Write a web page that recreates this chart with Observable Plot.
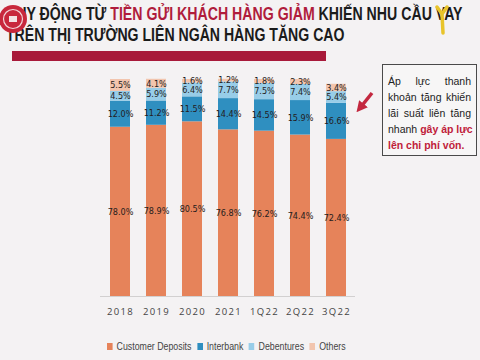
<!DOCTYPE html>
<html>
<head>
<meta charset="utf-8">
<script src="https://cdn.jsdelivr.net/npm/d3@7"></script>
<script src="https://cdn.jsdelivr.net/npm/@observablehq/plot@0.6"></script>
<style>
  html, body { margin: 0; padding: 0; }
  body { width: 480px; height: 360px; background: #f4f2f3; position: relative; overflow: hidden;
         font-family: "Liberation Sans", Arial, sans-serif; }
  #title { position: absolute; left: 0; top: 0; }
  #chart { position: absolute; left: 0; top: 62px; }
  #note { position: absolute; left: 382px; top: 64px; width: 83px; height: 81px; border: 1px solid #4a4a4a;
          padding: 8px 5px 1px 5px; font-size: 10.5px; line-height: 16px; color: #222; background: #f7f6f6; }
  #note div { text-align: justify; text-align-last: justify; white-space: nowrap; }
  #note div.last { text-align-last: left; }
  #note b { color: #c0203a; }
  #arrow { position: absolute; left: 0; top: 0; pointer-events: none; }
  #legend { position: absolute; left: 107px; top: 340px; display: flex; gap: 7px; align-items: center;
            font-family: "Liberation Sans", Arial, sans-serif; font-size: 11px; color: #444;
            transform: scaleX(0.8); transform-origin: 0 0; white-space: nowrap; }
  #legend .item { display: flex; align-items: center; gap: 5px; }
  #legend .sw { width: 7px; height: 7px; display: inline-block; }
</style>
</head>
<body>
<svg id="title" width="480" height="64" font-family="Liberation Sans, sans-serif" font-weight="bold" font-size="17.5">
  <text id="t1" x="0" y="20" fill="#1b1b1b">HUY ĐỘNG TỪ <tspan fill="#b01c3c">TIỀN GỬI KHÁCH HÀNG GIẢM</tspan> KHIẾN NHU CẦU VAY</text>
  <text id="t2" x="0" y="41.5" fill="#1b1b1b">TRÊN THỊ TRƯỜNG LIÊN NGÂN HÀNG TĂNG CAO</text>
  <rect x="12" y="51" width="314" height="10" fill="#a81a3a"/>
  <circle cx="13" cy="19" r="14" fill="#c8283c"/>
  <circle cx="13" cy="19" r="9.5" fill="none" stroke="#f3d6d9" stroke-width="1.2"/>
  <rect x="9" y="16" width="8" height="6" fill="#f3e3e4"/>
  <path d="M437,7 L442,14 L447,7 M442,14 L443,33" stroke="#e8c42a" stroke-width="3.5" fill="none" stroke-linecap="round"/>
</svg>
<div id="chart"></div>
<div id="note">
  <div>Áp lực thanh</div>
  <div>khoản tăng khiến</div>
  <div>lãi suất liên tăng</div>
  <div>nhanh <b>gây áp lực</b></div>
  <div class="last"><b>lên chi phí vốn.</b></div>
</div>
<svg id="arrow" width="480" height="360">
  <defs>
    <marker id="ah" viewBox="0 0 10 10" refX="5" refY="5" markerWidth="3.2" markerHeight="3.2" orient="auto">
      <path d="M0,0 L10,5 L0,10 z" fill="#c3283f"/>
    </marker>
  </defs>
  <line x1="372" y1="93" x2="360" y2="108" stroke="#c3283f" stroke-width="3.5" marker-end="url(#ah)"/>
</svg>
<div id="legend"></div>
<script>
const periods = ["2018", "2019", "2020", "2021", "1Q22", "2Q22", "3Q22"];
const seriesNames = ["Customer Deposits", "Interbank", "Debentures", "Others"];
const customerDeposits = [78.0, 78.9, 80.5, 76.8, 76.2, 74.4, 72.4];
const interbank = [12.0, 11.2, 11.5, 14.4, 14.5, 15.9, 16.6];
const debentures = [4.5, 5.9, 6.4, 7.7, 7.5, 7.4, 5.4];
const others = [5.5, 4.1, 1.6, 1.2, 1.8, 2.3, 3.4];
const colors = ["#e6835a", "#2f8fc0", "#98cde8", "#f2c5ae"];

// fit title lines horizontally (condensed look)
[["t1", 6, 457], ["t2", 6, 339]].forEach(([id, x0, w]) => {
  const el = document.getElementById(id);
  const natural = el.getComputedTextLength();
  el.setAttribute("transform", `translate(${x0},0) scale(${w / natural},1)`);
});

const seriesValues = [customerDeposits, interbank, debentures, others];
const rows = [];
seriesNames.forEach((s, i) => periods.forEach((p, j) => rows.push({period: p, series: s, value: seriesValues[i][j]})));

const stackOpts = {x: "period", y: "value", z: "series", order: seriesNames};

const chart = Plot.plot({
  width: 480,
  height: 263,
  marginLeft: 100,
  marginRight: 125,
  marginTop: 17,
  marginBottom: 29,
  style: {background: "transparent", fontFamily: "'Open Sans', 'Liberation Sans', sans-serif"},
  x: {domain: periods, paddingInner: 0.45, paddingOuter: 0.22, label: null, tickSize: 0, tickPadding: 12},
  y: {domain: [0, 100], axis: null},
  color: {domain: seriesNames, range: colors},
  marks: [
    Plot.barY(rows, Plot.stackY({...stackOpts, fill: "series"})),
    Plot.ruleY([0], {stroke: "#d2d0d0", strokeWidth: 1}),
    Plot.text(rows, Plot.stackY({...stackOpts, text: d => d.value.toFixed(1) + "%",
      fill: "#241c1c", fontSize: 9, fontFamily: "'Liberation Sans Narrow', 'DejaVu Sans Condensed', sans-serif"}))
  ]
});
chart.querySelectorAll("g[aria-label='x-axis tick label'] text, g[aria-label='x-axis tick label']").forEach(el => {
  el.setAttribute("font-size", "9.5");
  el.style.letterSpacing = "1.3px";
  el.setAttribute("fill", "#444");
});
document.getElementById("chart").appendChild(chart);

const legend = document.getElementById("legend");
seriesNames.forEach((s, i) => {
  const item = document.createElement("div");
  item.className = "item";
  const sw = document.createElement("span");
  sw.className = "sw";
  sw.style.background = colors[i];
  const t = document.createElement("span");
  t.textContent = s;
  item.appendChild(sw);
  item.appendChild(t);
  legend.appendChild(item);
});
</script>
</body>
</html>
